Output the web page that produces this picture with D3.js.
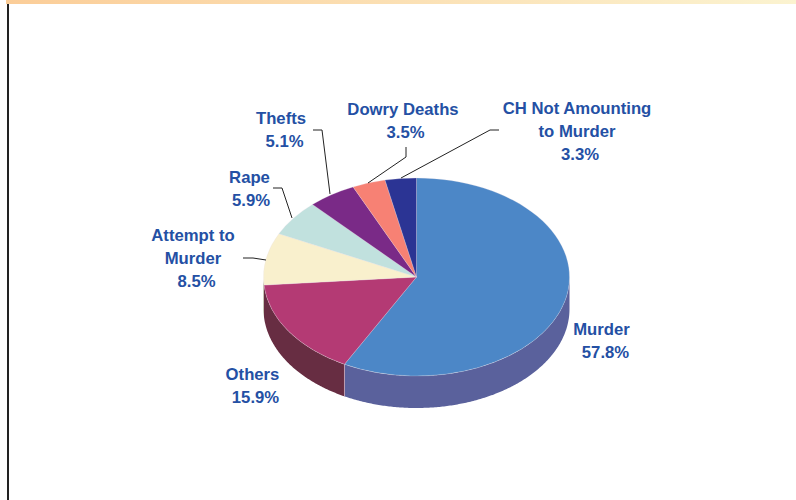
<!DOCTYPE html>
<html>
<head>
<meta charset="utf-8">
<script src="https://cdnjs.cloudflare.com/ajax/libs/d3/7.8.5/d3.min.js"></script>
<style>
html, body { margin: 0; padding: 0; background: #fff; }
svg { display: block; }
text { font-family: "Liberation Sans", Arial, sans-serif; font-weight: bold; font-size: 16.7px; fill: #2450a4; text-anchor: middle; }
</style>
</head>
<body>
<div id="chart"></div>
<script>
// values
const categories = ['Murder', 'Others', 'Attempt to Murder', 'Rape', 'Thefts', 'Dowry Deaths', 'CH Not Amounting to Murder'];
const shares = [57.8, 15.9, 8.5, 5.9, 5.1, 3.5, 3.3];
const topColors = ['#4c87c7', '#b43a74', '#f9f0cd', '#c1e1de', '#7a2a87', '#f78174', '#2b3494'];
const sideColors = ['#5a619c', '#672d42', '#8f8a6f', '#7f9492', '#4c1f55', '#96524a', '#1c2260'];

// label text lines and where they sit
const labelLines = [
  ['Murder', '57.8%'],
  ['Others', '15.9%'],
  ['Attempt to', 'Murder', '8.5%'],
  ['Rape', '5.9%'],
  ['Thefts', '5.1%'],
  ['Dowry Deaths', '3.5%'],
  ['CH Not Amounting', 'to Murder', '3.3%']
];
const labelPos = [[601.5, 335], [252.5, 380], [193, 241], [249.5, 183], [281, 124], [403, 115], [577, 114]];
// the percent lines sit a little right of the name lines
const pctShift = [4, 3, 3.5, 1.5, 3.5, 2.5, 3];
const leaders = [
  null,
  null,
  [[243, 258], [253, 258], [266, 260]],
  [[273, 188], [282, 188], [292, 218]],
  [[313, 130], [322, 130], [330, 194]],
  [[406, 147], [406, 157], [368, 183]],
  [[499, 130], [490, 130], [401, 178]]
];

const w = 796, h = 500;
const cx = 416.5, cy = 277, rx = 153, ry = 99, depth = 32;

const svg = d3.select('#chart').append('svg').attr('width', w).attr('height', h);

// top strip
const grad = svg.append('defs').append('linearGradient').attr('id', 'strip');
grad.append('stop').attr('offset', '0%').attr('stop-color', '#fbcd98');
grad.append('stop').attr('offset', '100%').attr('stop-color', '#fbf3d0');
svg.append('rect').attr('x', 6).attr('y', 0).attr('width', w - 6).attr('height', 4).attr('fill', 'url(#strip)');
svg.append('rect').attr('x', 7).attr('y', 4).attr('width', 2).attr('height', h - 4).attr('fill', '#222');

const pie = d3.pie().sort(null).value(d => d)(shares);

// side wall, only the part of each slice facing the viewer
const ex = a => cx + rx * Math.sin(a);
const ey = a => cy - ry * Math.cos(a);
const wall = d3.area().x(a => ex(a)).y0(a => ey(a)).y1(a => ey(a) + depth);
const front = svg.append('g');
pie.forEach((p, i) => {
  const a0 = Math.max(p.startAngle, Math.PI / 2);
  const a1 = Math.min(p.endAngle, Math.PI * 1.5);
  if (a1 <= a0) return;
  front.append('path').attr('d', wall(d3.range(a0, a1, 0.01).concat(a1))).attr('fill', sideColors[i]);
});
// pale seam at the Murder / Others edge
const seam = pie[0].endAngle;
front.append('line').attr('x1', ex(seam)).attr('x2', ex(seam)).attr('y1', ey(seam)).attr('y2', ey(seam) + depth)
  .attr('stroke', '#c9a9bd').attr('stroke-width', 0.8);

// top face: circular arcs squashed into an ellipse
const arc = d3.arc().innerRadius(0).outerRadius(rx);
svg.append('g').attr('transform', `translate(${cx},${cy}) scale(1,${ry / rx})`)
  .selectAll('path').data(pie).enter().append('path')
  .attr('d', arc)
  .attr('fill', (d, i) => topColors[i])
  .attr('stroke', '#e8e0e8').attr('stroke-width', 0.3);

// leader lines
const lineGen = d3.line();
svg.append('g').selectAll('path').data(leaders.filter(d => d)).enter().append('path')
  .attr('d', lineGen).attr('fill', 'none').attr('stroke', '#222').attr('stroke-width', 1);

// labels
const lineStep = 23;
labelLines.forEach((lines, i) => {
  const t = svg.append('text').attr('aria-label', categories[i]);
  lines.forEach((s, j) => {
    const dx = j === lines.length - 1 ? pctShift[i] : 0;
    t.append('tspan').attr('x', labelPos[i][0] + dx).attr('y', labelPos[i][1] + j * lineStep).text(s);
  });
});
</script>
</body>
</html>
